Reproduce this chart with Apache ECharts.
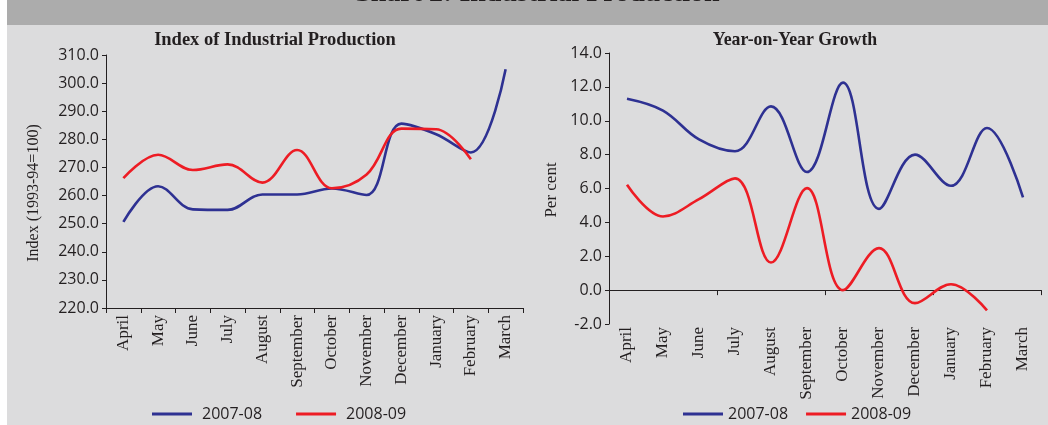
<!DOCTYPE html>
<html><head><meta charset="utf-8">
<script src="https://cdn.jsdelivr.net/npm/echarts@6/dist/echarts.min.js"></script>
<style>html,body{margin:0;padding:0;background:#fff}#c{width:1048px;height:425px}</style>
</head><body><div id="c"></div>
<script>
const months = ['April','May','June','July','August','September','October','November','December','January','February','March'];
const seriesNames = ['2007-08','2008-09'];
const iip0708 = [250.6,263.3,255.1,254.9,260.4,260.4,262.5,260.2,285.6,281.8,275.3,304.9];
const iip0809 = [266.2,274.5,269.1,271.1,264.6,276.2,262.6,267.5,283.8,283.6,272.9,null];
const yoy0708 = [11.3,10.6,8.9,8.2,10.85,6.97,12.25,4.8,8.0,6.16,9.57,5.47];
const yoy0809 = [6.22,4.35,5.37,6.6,1.63,6.02,0.0,2.48,-0.77,0.35,-1.2,null];
const leftAxis = {min:220,max:310,interval:10};
const rightAxis = {min:-2,max:14,interval:2};
const titles = ['Chart 2: Industrial Production','Index of Industrial Production','Year-on-Year Growth'];
const yNames = ['Index (1993-94=100)','Per cent'];

const BLUE='#2e3192', RED='#ed1c24', INK='#231f20';
const SERIF='"Liberation Serif", "Times New Roman", serif';
const SANS='"Open Sans", "Liberation Sans", sans-serif';

const chart = echarts.init(document.getElementById('c'));
const axLine = {show:true,lineStyle:{color:INK,width:1}};
const catLabel = {rotate:90,fontFamily:SERIF,fontSize:17,color:INK,margin:7,interval:0};
const valLabel = {fontFamily:SANS,fontSize:16,color:INK,margin:7,formatter:v=>v.toFixed(1)};
function line(name,data,color,xi,yi){
  return {type:'line',name,data,xAxisIndex:xi,yAxisIndex:yi,smooth:0.38,showSymbol:false,
    color,lineStyle:{color,width:2.6},itemStyle:{color},connectNulls:false};
}
const legendBase = {orient:'horizontal',icon:'rect',itemWidth:40,itemHeight:3,padding:0,
  data:seriesNames,textStyle:{fontFamily:SANS,fontSize:16,color:INK}};
chart.setOption({
  backgroundColor:'#dcdcdd',
  animation:false,
  grid:[{left:106,top:55,width:417,height:253},{left:609,top:53,width:432,height:271}],
  xAxis:[
    {type:'category',gridIndex:0,data:months,boundaryGap:true,axisLine:axLine,
      axisTick:{show:true,length:5,lineStyle:{color:INK}},axisLabel:catLabel},
    {type:'category',gridIndex:1,data:months,boundaryGap:true,axisLine:Object.assign({onZero:true},axLine),
      axisTick:{show:true,length:5,lineStyle:{color:INK}},axisLabel:{show:false}},
    {type:'category',gridIndex:1,data:months,boundaryGap:true,position:'bottom',
      axisLine:{show:false,onZero:false},axisTick:{show:false},axisLabel:Object.assign({},catLabel,{margin:3})}
  ],
  yAxis:[
    Object.assign({type:'value',gridIndex:0,axisLine:axLine,axisTick:{show:true,length:4,lineStyle:{color:INK}},
      splitLine:{show:false},axisLabel:valLabel},leftAxis),
    Object.assign({type:'value',gridIndex:1,axisLine:axLine,axisTick:{show:true,length:4,lineStyle:{color:INK}},
      splitLine:{show:false},axisLabel:valLabel},rightAxis)
  ],
  legend:[
    Object.assign({},legendBase,{left:152,top:406,itemGap:34,textStyle:Object.assign({},legendBase.textStyle,{padding:[0,0,0,5]})}),
    Object.assign({},legendBase,{left:683,top:406,itemGap:18})
  ],
  series:[
    line(seriesNames[0],iip0708,BLUE,0,0),
    line(seriesNames[1],iip0809,RED,0,0),
    line(seriesNames[0],yoy0708,BLUE,1,1),
    line(seriesNames[1],yoy0809,RED,1,1)
  ],
  graphic:[
    {type:'rect',left:0,top:0,shape:{x:0,y:0,width:7,height:425},style:{fill:'#ffffff'},silent:true},
    {type:'rect',shape:{x:7,y:0,width:1041,height:25},style:{fill:'#acacac'},silent:true},
    {type:'text',x:535,y:-6.5,style:{text:titles[0],fill:INK,font:'bold 28px '+SERIF,align:'center',verticalAlign:'middle'}},
    {type:'text',x:275,y:40,style:{text:titles[1],fill:INK,font:'bold 18.5px '+SERIF,align:'center',verticalAlign:'middle'}},
    {type:'text',x:795,y:40,style:{text:titles[2],fill:INK,font:'bold 17.8px '+SERIF,align:'center',verticalAlign:'middle'}},
    {type:'text',x:34,y:193,rotation:Math.PI/2,style:{text:yNames[0],fill:INK,font:'16px '+SERIF,align:'center',verticalAlign:'middle'}},
    {type:'text',x:552,y:190,rotation:Math.PI/2,style:{text:yNames[1],fill:INK,font:'17px '+SERIF,align:'center',verticalAlign:'middle'}}
  ]
});
</script></body></html>
